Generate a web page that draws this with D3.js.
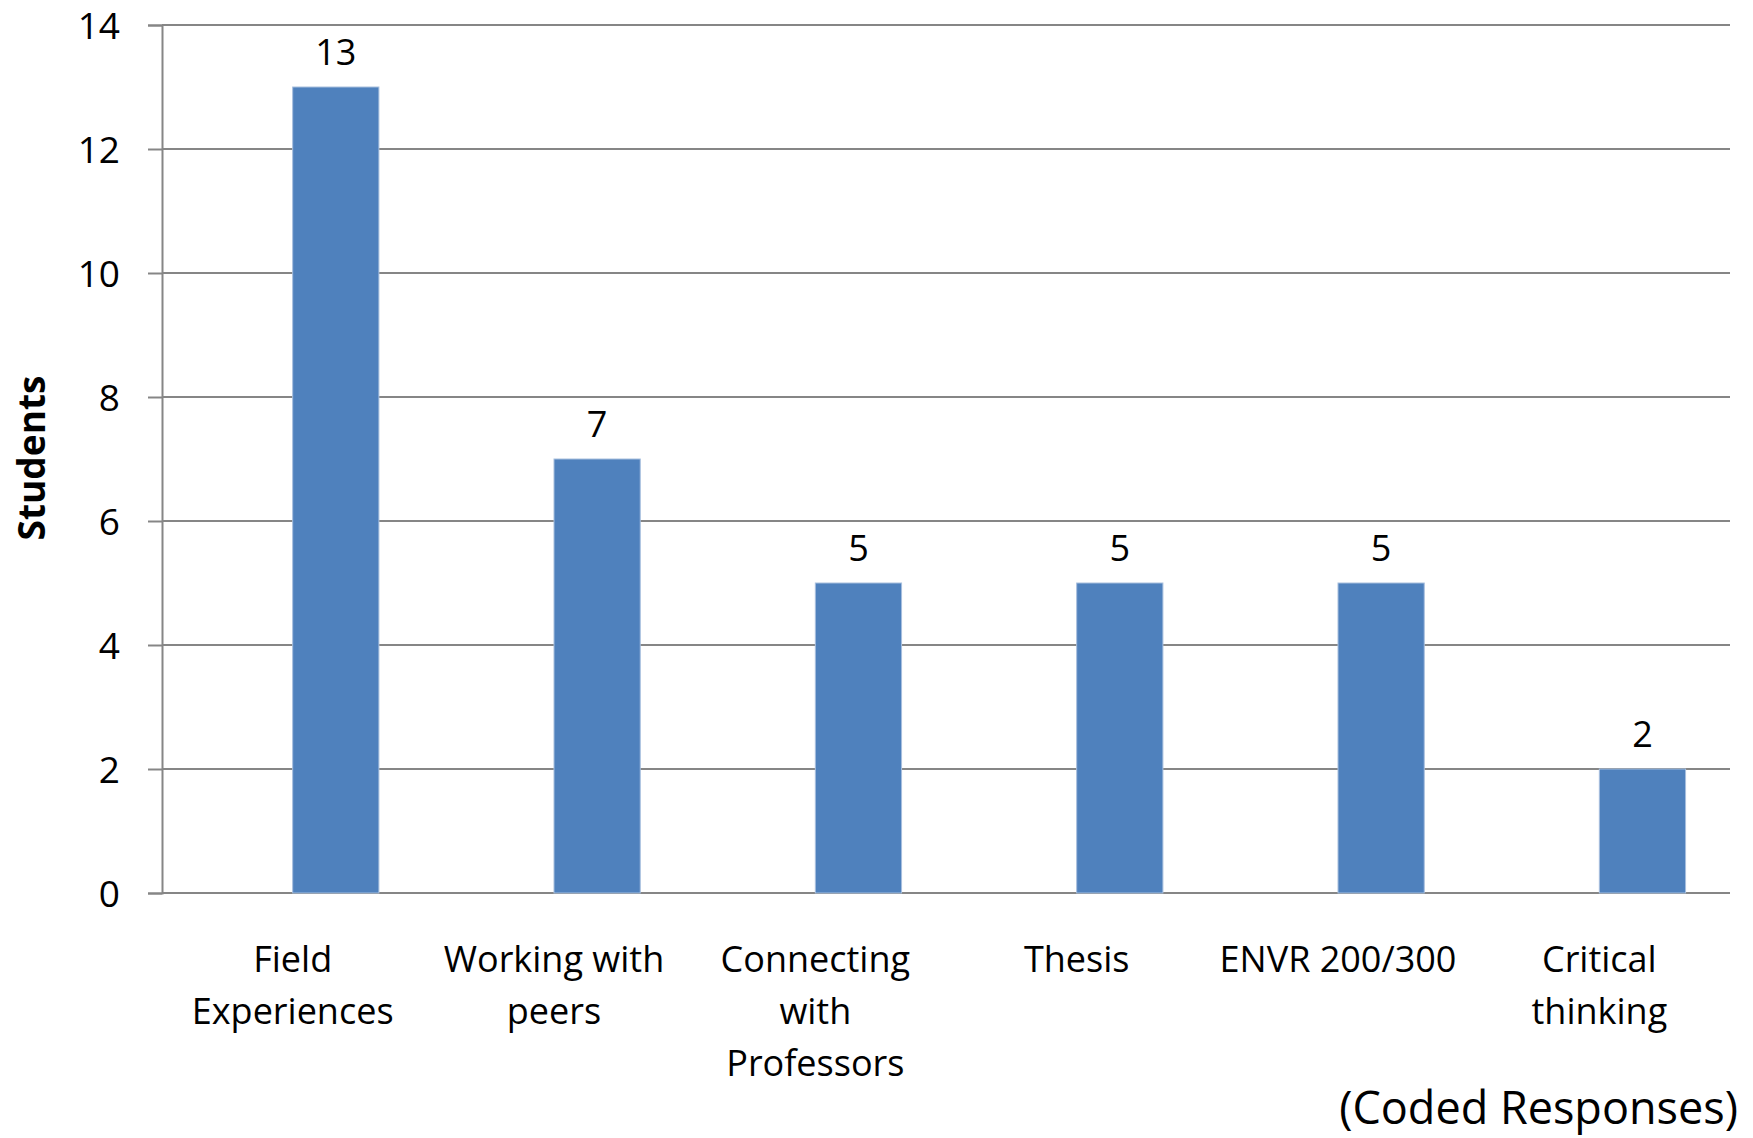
<!DOCTYPE html>
<html>
<head>
<meta charset="utf-8">
<script src="https://cdn.jsdelivr.net/npm/d3@7"></script>
<style>
  html, body { margin: 0; padding: 0; background: #fff; }
  svg { display: block; }
  text { font-family: "Open Sans", sans-serif; fill: #000; }
</style>
</head>
<body>
<script>
const categories = [
  ["Field", "Experiences"],
  ["Working with", "peers"],
  ["Connecting", "with", "Professors"],
  ["Thesis"],
  ["ENVR 200/300"],
  ["Critical", "thinking"]
];
const categoryKeys = ["Field Experiences", "Working with peers", "Connecting with Professors", "Thesis", "ENVR 200/300", "Critical thinking"];
const values = [13, 7, 5, 5, 5, 2];
const yTicks = [0, 2, 4, 6, 8, 10, 12, 14];
const yTitle = "Students";
const xTitle = "(Coded Responses)";

const W = 1753, H = 1138;
const margin = { left: 162, right: 23, top: 25, bottom: 245 };

const svg = d3.select("body").append("svg").attr("width", W).attr("height", H);

const x = d3.scaleBand().domain(categoryKeys).range([margin.left, W - margin.right]).padding(0);
const y = d3.scaleLinear().domain([0, 14]).range([H - margin.bottom, margin.top]);

const grid = "#868686";
const fs = 36;

// gridlines + tick marks
const yAxis = d3.axisLeft(y).tickValues(yTicks).tickSize(14).tickPadding(28);
const gy = svg.append("g").attr("transform", `translate(${margin.left},0)`).call(yAxis);
gy.select(".domain").attr("stroke", grid).attr("stroke-width", 2);
gy.selectAll(".tick line").attr("stroke", grid).attr("stroke-width", 2);
gy.selectAll(".tick text").attr("font-size", 37).attr("font-family", "Open Sans").attr("fill", "#000").attr("dy", "0.36em");

svg.append("g").selectAll("line").data(yTicks).join("line")
  .attr("x1", margin.left).attr("x2", W - margin.right)
  .attr("y1", d => Math.round(y(d))).attr("y2", d => Math.round(y(d)))
  .attr("stroke", grid).attr("stroke-width", 2);

// bars (second slot of a two-series cluster)
const bw = x.bandwidth();
const barW = bw * 0.33;
svg.append("g").selectAll("rect").data(values).join("rect")
  .attr("x", (d, i) => x(categoryKeys[i]) + bw / 2)
  .attr("y", d => y(d))
  .attr("width", barW)
  .attr("height", d => y(0) - y(d))
  .attr("fill", "#4F81BD")
  .attr("stroke", "#A7BFDE").attr("stroke-width", 1);

// value labels
svg.append("g").selectAll("text").data(values).join("text")
  .attr("x", (d, i) => x(categoryKeys[i]) + bw / 2 + barW / 2)
  .attr("y", d => y(d) - 22)
  .attr("text-anchor", "middle")
  .attr("font-size", fs)
  .text(d => d);

// category labels
const lab = svg.append("g").selectAll("text").data(categories).join("text")
  .attr("x", (d, i) => x(categoryKeys[i]) + bw / 2)
  .attr("y", 972)
  .attr("text-anchor", "middle")
  .attr("font-size", fs);
lab.selectAll("tspan").data(d => d).join("tspan")
  .attr("x", function() { return d3.select(this.parentNode).attr("x"); })
  .attr("dy", (d, j) => j === 0 ? 0 : 52)
  .text(d => d);

// axis titles
svg.append("text")
  .attr("transform", `translate(45,458) rotate(-90)`)
  .attr("text-anchor", "middle")
  .attr("font-size", 37)
  .attr("font-weight", "bold")
  .text(yTitle);

svg.append("text")
  .attr("x", 1738).attr("y", 1124)
  .attr("text-anchor", "end")
  .attr("font-size", 45)
  .text(xTitle);
</script>
</body>
</html>
